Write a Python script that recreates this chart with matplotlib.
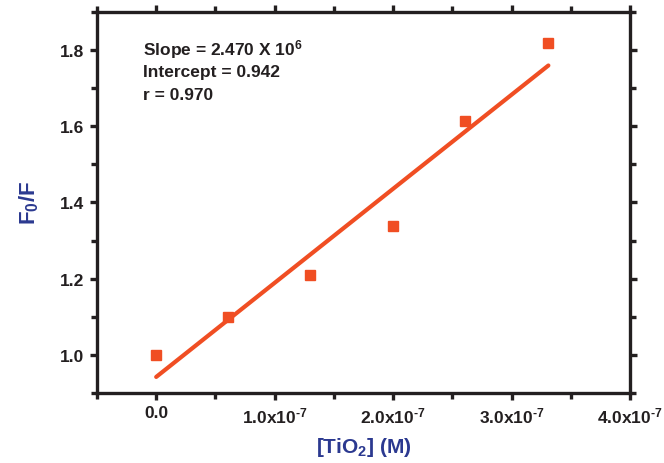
import numpy as np
import matplotlib
matplotlib.use('Agg')
import matplotlib.pyplot as plt
from matplotlib.ticker import MultipleLocator

# data
conc = [0.0, 0.61e-7, 1.30e-7, 2.0e-7, 2.61e-7, 3.31e-7]
f0_f = [1.0, 1.10, 1.21, 1.337, 1.615, 1.818]
slope = 2.470e6
intercept = 0.942
x_ticks = [0.0, 1e-7, 2e-7, 3e-7, 4e-7]
x_tick_labels = ['0.0', r'1.0x10$^{\text{-7}}$', r'2.0x10$^{\text{-7}}$',
                 r'3.0x10$^{\text{-7}}$', r'4.0x10$^{\text{-7}}$']
y_ticks = [1.0, 1.2, 1.4, 1.6, 1.8]

plt.rcParams['font.family'] = ['Liberation Sans', 'DejaVu Sans']
plt.rcParams['font.weight'] = 'bold'
plt.rcParams['mathtext.fontset'] = 'custom'
plt.rcParams['mathtext.rm'] = 'Liberation Sans:bold'
plt.rcParams['mathtext.it'] = 'Liberation Sans:bold'
plt.rcParams['mathtext.bf'] = 'Liberation Sans:bold'

orange = '#f04e23'
navy = '#2b3990'
dark = '#231f20'

fig = plt.figure(figsize=(6.64, 4.64), dpi=100)
ax = fig.add_axes([0.146, 0.151, 0.803, 0.821])

# fitted line
xfit = np.array([conc[0], conc[-1]])
ax.plot(xfit, intercept + slope * xfit, color=orange, lw=3, solid_capstyle='round', zorder=2)
ax.plot(conc, f0_f, 's', color=orange, ms=6.5, zorder=3)

ax.set_xlim(-0.5e-7, 4e-7)
ax.set_ylim(0.9, 1.9)
ax.set_xticks(x_ticks)
ax.set_xticklabels(x_tick_labels)
ax.set_yticks(y_ticks)
ax.xaxis.set_minor_locator(MultipleLocator(0.5e-7))
ax.yaxis.set_minor_locator(MultipleLocator(0.1))

for s in ax.spines.values():
    s.set_linewidth(2.4)
    s.set_color(dark)

ax.tick_params(which='both', direction='out', top=True, right=True,
               width=2.4, color=dark, labelsize=12.5, labelcolor=dark)
ax.tick_params(which='major', length=5, pad=4)
ax.tick_params(which='minor', length=4)

ax.set_xlabel(r'[TiO$_2$] (M)', fontsize=15, color=navy, fontweight='bold', labelpad=7)
ax.set_ylabel(r'F$_0$/F', fontsize=16, color=navy, fontweight='bold', labelpad=14)

ax.text(0.086, 0.903, r'Slope = 2.470 X 10$^6$', transform=ax.transAxes,
        fontsize=12.5, fontweight='bold', color=dark, va='center')
ax.text(0.086, 0.843, 'Intercept = 0.942', transform=ax.transAxes,
        fontsize=12.5, fontweight='bold', color=dark, va='center')
ax.text(0.086, 0.783, 'r = 0.970', transform=ax.transAxes,
        fontsize=12.5, fontweight='bold', color=dark, va='center')

fig.savefig('out.png', dpi=100)
